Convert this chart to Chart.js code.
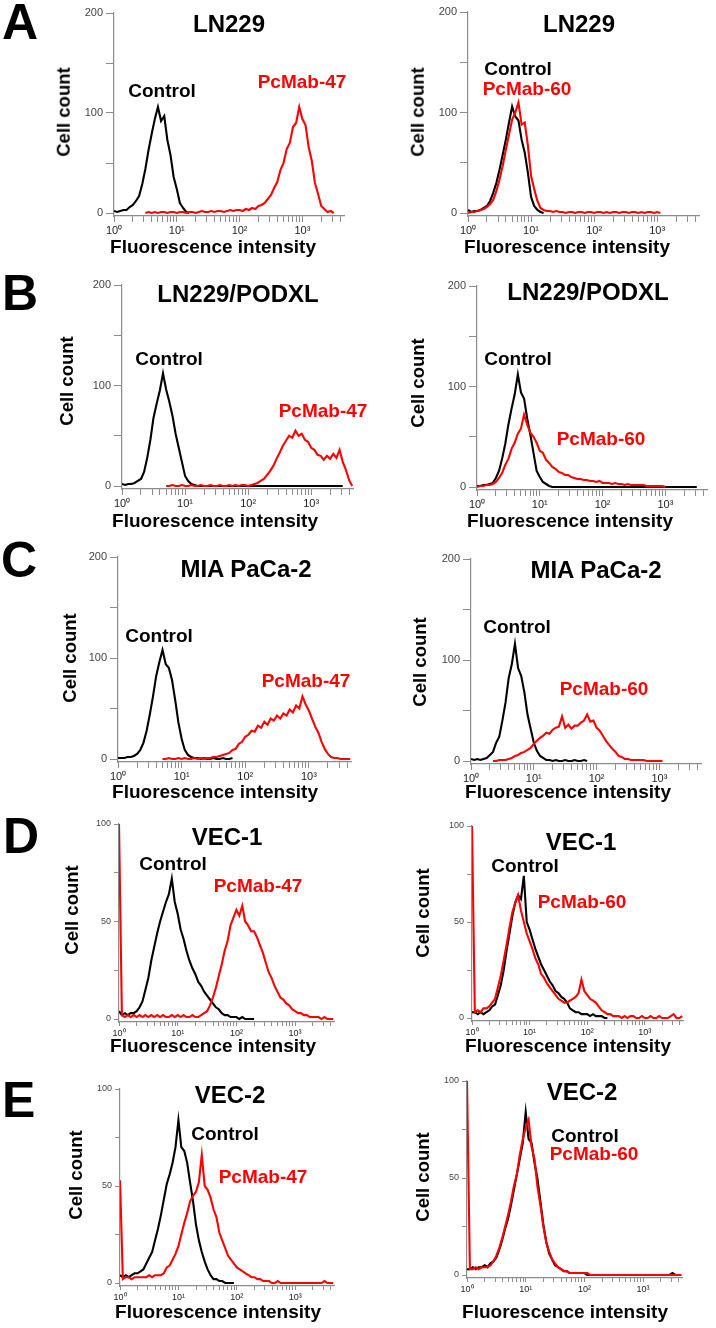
<!DOCTYPE html>
<html>
<head>
<meta charset="utf-8">
<script src="https://cdn.jsdelivr.net/npm/chart.js@4.4.1/dist/chart.umd.min.js"></script>
<style>
  body { margin: 0; background: #fff; }
  #fig { position: relative; width: 716px; height: 1328px; overflow: hidden;
         font-family: "Liberation Sans", Arial, Helvetica, sans-serif; }
  #fig canvas { position: absolute; }
  .txt { position: absolute; white-space: nowrap; font-weight: bold; line-height: 1; }
</style>
</head>
<body>
<div id="fig"></div>
<script>
const _ = null;

// --- 공통 x 채널 (log 0.05 간격) ---
const channels = [1, 1.12, 1.26, 1.41, 1.58, 1.78, 2.00, 2.24, 2.51, 2.82,
  3.16, 3.55, 3.98, 4.47, 5.01, 5.62, 6.31, 7.08, 7.94, 8.91,
  10, 11.2, 12.6, 14.1, 15.8, 17.8, 20.0, 22.4, 25.1, 28.2,
  31.6, 35.5, 39.8, 44.7, 50.1, 56.2, 63.1, 70.8, 79.4, 89.1,
  100, 112, 126, 141, 158, 178, 200, 224, 251, 282,
  316, 355, 398, 447, 501, 562, 631, 708, 794, 891,
  1000, 1122, 1259, 1413, 1585, 1778, 1995, 2239, 2512, 2818,
  3162, 3548, 3981, 4467];

// --- A: LN229 ---
const ln229Ctrl47 = [2,1,2,3,3,6,8,12,17,29, 44,63,79,94,106,92,97,73,58,36, 24,10,5,1,0,_,_,_,_,_,
  _,_,_,_,_,_,_,_,_,_, _,_,_,_,_,_,_,_,_,_, _,_,_,_,_,_,_,_,_,_, _,_,_,_,_,_,_,_,_,_, _,_,_,_];
const ln229Mab47 = [_,_,_,_,_,_,_,_,_,_, 0,1,0,1,0,1,1,0,1,1, 0,1,1,0,1,1,0,1,2,1,
  1,2,1,2,2,1,2,3,2,3, 3,2,4,3,5,4,7,8,10,14, 18,25,31,43,50,64,70,86,90,106, 94,88,66,52,30,19,7,4,1,2, 0,_,_,_];
const ln229Ctrl60 = [3,1,2,2,3,5,7,12,20,30, 43,58,73,90,106,96,92,73,60,40, 16,7,3,1,0,_,_,_,_,_,
  _,_,_,_,_,_,_,_,_,_, _,_,_,_,_,_,_,_,_,_, _,_,_,_,_,_,_,_,_,_, _,_,_,_,_,_,_,_,_,_, _,_,_,_];
const ln229Mab60 = [0,1,1,2,3,4,6,9,13,22, 33,47,63,78,93,100,110,88,90,67, 37,24,12,5,3,2,2,1,2,1,
  1,0,1,1,0,1,1,0,1,1, 0,1,1,0,1,0,1,1,0,1, 1,0,1,1,0,1,0,1,1,0, 1,0,_,_,_,_,_,_,_,_, _,_,_,_];

// --- B: LN229/PODXL ---
const podxlCtrl47 = [2,1,2,2,3,5,7,14,28,46, 68,82,95,112,96,84,70,52,38,24, 10,5,2,1,0,0,0,0,0,0,
  0,0,0,0,0,0,0,0,0,0, 0,0,0,0,0,0,0,0,0,0, 0,0,0,0,0,0,0,0,0,0, 0,0,0,0,0,0,0,0,0,0, 0,_,_,_];
const podxlMab47 = [_,_,_,_,_,_,_,_,_,_, _,_,_,_,0,0,1,0,0,1, 0,0,1,0,0,1,0,0,1,0,
  0,1,0,0,1,0,1,0,1,1, 0,1,2,3,5,7,11,15,20,27, 33,40,45,50,48,55,50,52,46,44, 38,36,31,30,26,30,27,32,28,36, 24,16,6,0];
const podxlCtrl60 = [1,1,2,2,3,4,9,16,28,43, 62,78,92,112,94,88,68,52,34,16, 10,5,3,1,0,0,0,0,0,0,
  0,0,0,0,0,0,0,0,0,0, 0,0,0,0,0,0,0,0,0,0, 0,0,0,0,0,0,0,0,0,0, 0,0,0,0,0,0,0,0,0,0, 0,_,_,_];
const podxlMab60 = [0,1,1,2,2,3,5,9,14,22, 28,38,44,53,58,72,62,54,50,44, 36,34,27,24,20,18,15,14,12,12,
  10,9,8,8,7,7,6,6,5,6, 4,4,4,3,4,3,3,2,3,2, 2,2,2,2,1,1,1,1,1,1, 0,_,_,_,_,_,_,_,_,_, _,_,_,_];

// --- C: MIA PaCa-2 ---
const miaCtrl47 = [1,1,1,2,2,3,5,9,16,28, 44,62,82,96,108,94,90,78,58,36, 20,9,4,2,1,1,0,1,0,0,
  1,0,0,1,0,0,1,_,_,_, _,_,_,_,_,_,_,_,_,_, _,_,_,_,_,_,_,_,_,_, _,_,_,_,_,_,_,_,_,_, _,_,_,_];
const miaMab47 = [_,_,_,_,_,_,_,_,_,_, _,_,_,_,0,0,1,0,0,1, 0,1,0,0,1,0,1,0,1,1,
  2,2,3,4,5,6,9,10,15,17, 22,24,28,27,33,31,37,34,40,38, 43,40,45,43,49,46,53,50,62,54, 48,40,32,26,17,10,5,2,1,1, 0,0,0,0];
const miaCtrl60 = [2,1,2,1,2,3,6,9,18,24, 40,58,82,96,116,92,84,68,46,32, 18,10,5,3,1,1,0,1,0,0,
  1,0,0,1,0,0,1,0,_,_, _,_,_,_,_,_,_,_,_,_, _,_,_,_,_,_,_,_,_,_, _,_,_,_,_,_,_,_,_,_, _,_,_,_];
const miaMab60 = [_,_,_,_,_,_,_,0,0,1, 1,1,2,3,5,6,8,9,11,13, 17,20,23,25,28,27,31,33,34,44,
  33,36,32,35,35,38,40,46,39,40, 33,30,25,20,16,12,9,5,4,2, 2,1,1,1,1,1,0,0,0,0, 0,0,_,_,_,_,_,_,_,_, _,_,_,_];

// --- D: VEC-1 ---
const vec1Ctrl47 = [4,2,3,2,3,3,4,6,9,15, 21,30,37,44,50,55,60,64,72,60, 54,46,41,35,30,26,23,19,17,14,
  12,10,8,6,5,3,2,2,1,1, 1,0,1,0,0,0,0,_,_,_, _,_,_,_,_,_,_,_,_,_, _,_,_,_,_,_,_,_,_,_, _,_,_,_];
const vec1Mab47 = [100,2,1,2,1,2,1,2,1,2, 1,2,1,2,1,2,1,1,2,1, 2,1,2,1,1,2,1,1,2,3,
  4,7,11,16,22,28,35,40,48,52, 56,53,58,50,48,45,45,42,38,34, 29,24,21,17,14,11,10,8,7,5, 4,3,3,2,2,1,1,1,1,0, 1,0,0,0];
const vec1Ctrl60 = [3,3,2,3,2,3,4,6,7,12, 17,25,35,44,53,60,64,62,74,50, 46,41,36,32,28,25,22,19,17,14,
  13,11,10,8,5,4,3,3,2,2, 2,1,2,1,1,1,0,0,_,_, _,_,_,_,_,_,_,_,_,_, _,_,_,_,_,_,_,_,_,_, _,_,_,_];
const vec1Mab60 = [100,3,4,3,5,5,6,8,10,16, 22,30,38,47,55,60,64,56,50,44, 40,36,31,28,23,21,18,16,14,12,
  10,9,8,8,9,10,11,13,20,14, 12,10,9,8,6,4,3,2,2,1, 1,1,0,1,0,1,1,0,0,1, 0,0,1,0,0,1,0,0,0,1, 2,0,0,1];

// --- E: VEC-2 ---
const vec2Ctrl47 = [4,3,4,3,4,5,5,6,7,10, 13,16,22,28,35,43,51,56,62,70, 84,70,68,62,52,42,30,22,16,11,
  7,4,2,2,1,1,0,0,0,0, _,_,_,_,_,_,_,_,_,_, _,_,_,_,_,_,_,_,_,_, _,_,_,_,_,_,_,_,_,_, _,_,_,_];
const vec2Mab47 = [53,2,3,3,2,3,3,3,3,3, 4,3,4,4,4,5,8,9,12,15, 19,25,31,36,42,45,47,52,66,50,
  48,44,38,34,26,22,18,14,12,10, 8,7,6,5,4,3,3,2,2,1, 1,1,0,0,1,0,0,0,0,0, 0,0,0,0,0,0,0,0,0,0, 1,0,0,0];
const vec2Ctrl60 = [3,3,4,3,4,4,5,4,6,7, 9,13,18,24,29,36,44,52,60,68, 84,70,68,58,50,38,26,17,11,8,
  5,4,3,2,2,1,1,1,1,1, 1,0,0,0,0,0,0,0,0,0, 0,0,0,0,0,0,0,0,0,0, 0,0,0,0,0,0,0,0,0,0, 1,0,0,0];
const vec2Mab60 = [100,3,3,4,3,4,4,4,5,7, 10,14,19,25,31,38,46,52,62,70, 76,80,66,60,46,36,25,17,12,8,
  6,4,3,2,2,1,1,1,1,1, 1,1,0,0,0,0,0,0,0,0, 0,0,0,0,0,0,0,0,0,0, 0,0,0,0,0,0,0,0,0,0, 0,0,0,0];

// --- 눈금 ---
const xTickValues = [1,2,3,4,5,6,7,8,9, 10,20,30,40,50,60,70,80,90,
  100,200,300,400,500,600,700,800,900, 1000,2000,3000,4000];
const xTickLabels = { 1: '10⁰', 10: '10¹', 100: '10²', 1000: '10³' };
const yTicks200 = [0, 50, 100, 150, 200];
const yLabels200 = [0, 100, 200];
const yTicks100 = [0, 25, 50, 75, 100];
const yLabels100 = [0, 50, 100];

const X_MAX = 4600;
const FONT = '"Liberation Sans", Arial, Helvetica, sans-serif';
const axisGrey = '#8c8c8c';
const RED = '#ff0000';

// 패널 배치 (x0 = 10^0 위치, dec = 1 decade 픽셀, yTop = 최대값 위치, y0 = 0 위치)
const panels = [
  { ctrl: ln229Ctrl47, mab: ln229Mab47, ymax: 200, x0: 114, dec: 62.7, yTop: 13,   y0: 213 },
  { ctrl: ln229Ctrl60, mab: ln229Mab60, ymax: 200, x0: 468, dec: 63.0, yTop: 12,   y0: 213 },
  { ctrl: podxlCtrl47, mab: podxlMab47, ymax: 200, x0: 122, dec: 63.0, yTop: 285,  y0: 486 },
  { ctrl: podxlCtrl60, mab: podxlMab60, ymax: 200, x0: 477, dec: 62.7, yTop: 286,  y0: 487 },
  { ctrl: miaCtrl47,   mab: miaMab47,   ymax: 200, x0: 118, dec: 63.7, yTop: 557,  y0: 759 },
  { ctrl: miaCtrl60,   mab: miaMab60,   ymax: 200, x0: 471, dec: 62.7, yTop: 559,  y0: 761 },
  { ctrl: vec1Ctrl47,  mab: vec1Mab47,  ymax: 100, x0: 119, dec: 58.7, yTop: 824,  y0: 1019 },
  { ctrl: vec1Ctrl60,  mab: vec1Mab60,  ymax: 100, x0: 472, dec: 57.7, yTop: 826,  y0: 1018 },
  { ctrl: vec2Ctrl47,  mab: vec2Mab47,  ymax: 100, x0: 120, dec: 58.3, yTop: 1089, y0: 1283 },
  { ctrl: vec2Ctrl60,  mab: vec2Mab60,  ymax: 100, x0: 467, dec: 58.7, yTop: 1081, y0: 1275 }
];

// 텍스트: [문자, x, baseline, size, color, 정렬]
const texts = [
  ['A', 2, 39, 50, '#000', 'l'], ['B', 2, 310, 50, '#000', 'l'], ['C', 1, 577, 50, '#000', 'l'],
  ['D', 3, 853, 50, '#000', 'l'], ['E', 2, 1117, 50, '#000', 'l'],

  ['LN229', 229, 32, 24, '#000', 'c'], ['Control', 162, 97, 19, '#000', 'c'], ['PcMab-47', 302, 88, 19, RED, 'c'],
  ['Cell count', 64, 112, 18.5, '#000', 'v'], ['Fluorescence intensity', 213, 253, 19, '#000', 'c'],
  ['LN229', 579, 32, 24, '#000', 'c'], ['Control', 518, 75, 19, '#000', 'c'], ['PcMab-60', 527, 95, 19, RED, 'c'],
  ['Cell count', 418, 112, 18.5, '#000', 'v'], ['Fluorescence intensity', 567, 253, 19, '#000', 'c'],

  ['LN229/PODXL', 238, 302, 24, '#000', 'c'], ['Control', 169, 365, 19, '#000', 'c'], ['PcMab-47', 323, 417, 19, RED, 'c'],
  ['Cell count', 67, 381, 18.5, '#000', 'v'], ['Fluorescence intensity', 215, 527, 19, '#000', 'c'],
  ['LN229/PODXL', 588, 300, 24, '#000', 'c'], ['Control', 518, 365, 19, '#000', 'c'], ['PcMab-60', 601, 445, 19, RED, 'c'],
  ['Cell count', 418, 383, 18.5, '#000', 'v'], ['Fluorescence intensity', 570, 527, 19, '#000', 'c'],

  ['MIA PaCa-2', 246, 577, 24, '#000', 'c'], ['Control', 159, 642, 19, '#000', 'c'], ['PcMab-47', 306, 687, 19, RED, 'c'],
  ['Cell count', 70, 658, 18.5, '#000', 'v'], ['Fluorescence intensity', 215, 798, 19, '#000', 'c'],
  ['MIA PaCa-2', 596, 578, 24, '#000', 'c'], ['Control', 517, 633, 19, '#000', 'c'], ['PcMab-60', 604, 695, 19, RED, 'c'],
  ['Cell count', 420, 662, 18.5, '#000', 'v'], ['Fluorescence intensity', 568, 798, 19, '#000', 'c'],

  ['VEC-1', 227, 845, 24, '#000', 'c'], ['Control', 173, 870, 19, '#000', 'c'], ['PcMab-47', 258, 892, 19, RED, 'c'],
  ['Cell count', 72, 910, 18.5, '#000', 'v'], ['Fluorescence intensity', 213, 1052, 19, '#000', 'c'],
  ['VEC-1', 581, 850, 24, '#000', 'c'], ['Control', 525, 872, 19, '#000', 'c'], ['PcMab-60', 582, 908, 19, RED, 'c'],
  ['Cell count', 423, 913, 18.5, '#000', 'v'], ['Fluorescence intensity', 568, 1052, 19, '#000', 'c'],

  ['VEC-2', 230, 1103, 24, '#000', 'c'], ['Control', 225, 1140, 19, '#000', 'c'], ['PcMab-47', 263, 1183, 19, RED, 'c'],
  ['Cell count', 76, 1175, 18.5, '#000', 'v'], ['Fluorescence intensity', 218, 1318, 19, '#000', 'c'],
  ['VEC-2', 582, 1100, 24, '#000', 'c'], ['Control', 585, 1142, 19, '#000', 'c'], ['PcMab-60', 594, 1160, 19, RED, 'c'],
  ['Cell count', 423, 1177, 18.5, '#000', 'v'], ['Fluorescence intensity', 565, 1318, 19, '#000', 'c']
];

const fig = document.getElementById('fig');

function toPoints(arr) {
  return channels.map((x, i) => ({ x: x, y: arr[i] })).filter(d => d.y !== null);
}

function drawPanel(p) {
  const small = p.ymax === 100;
  const padL = 44, padT = 10, padR = 14, padB = 30;
  const gap = 3; // 0 눈금과 x축 사이 간격
  const plotW = Math.round(p.dec * Math.log10(X_MAX));
  const plotH = p.y0 + gap - p.yTop;

  const cv = document.createElement('canvas');
  cv.width = padL + plotW + padR;
  cv.height = padT + plotH + padB;
  cv.style.left = (p.x0 - padL) + 'px';
  cv.style.top = (p.yTop - padT) + 'px';
  fig.appendChild(cv);

  const yMin = -gap * p.ymax / (p.y0 - p.yTop);
  const yTicks = small ? yTicks100 : yTicks200;
  const yShown = small ? yLabels100 : yLabels200;

  new Chart(cv, {
    type: 'line',
    data: {
      datasets: [
        { data: toPoints(p.mab), borderColor: RED, borderWidth: 2.1, pointRadius: 0, tension: 0, order: 0 },
        { data: toPoints(p.ctrl), borderColor: '#000', borderWidth: 2.1, pointRadius: 0, tension: 0, order: 1 }
      ]
    },
    options: {
      responsive: false,
      animation: false,
      events: [],
      layout: { padding: { left: 0, top: padT, right: padR, bottom: 0 } },
      plugins: { legend: { display: false }, tooltip: { enabled: false } },
      scales: {
        x: {
          type: 'logarithmic', min: 1, max: X_MAX,
          afterFit: s => { s.height = padB; },
          afterBuildTicks: s => { s.ticks = xTickValues.map(v => ({ value: v })); },
          border: { color: axisGrey, width: 1.2 },
          grid: { drawOnChartArea: false, drawTicks: true, tickLength: small ? 4 : 6, color: axisGrey },
          ticks: {
            autoSkip: false, maxRotation: 0, minRotation: 0, padding: 2, color: '#222',
            font: { family: FONT, size: small ? 9 : 11 },
            callback: v => xTickLabels[v] || ''
          }
        },
        y: {
          min: yMin, max: p.ymax,
          afterFit: s => { s.width = padL; },
          afterBuildTicks: s => { s.ticks = yTicks.map(v => ({ value: v })); },
          border: { color: axisGrey, width: 1.2 },
          grid: { drawOnChartArea: false, drawTicks: true, tickLength: small ? 5 : 8, color: axisGrey },
          ticks: {
            padding: 3, color: '#444',
            font: { family: FONT, size: small ? 9 : 11 },
            callback: v => yShown.includes(v) ? String(v) : ''
          }
        }
      }
    }
  });
}

panels.forEach(drawPanel);

// --- 텍스트 배치 ---
texts.forEach(([t, x, base, size, color, align]) => {
  const d = document.createElement('div');
  d.className = 'txt';
  d.textContent = t;
  d.style.fontSize = size + 'px';
  d.style.color = color;
  if (align === 'v') {
    d.style.left = x + 'px';
    d.style.top = base + 'px';
    d.style.transform = 'translate(-50%, -50%) rotate(-90deg)';
  } else {
    d.style.left = x + 'px';
    d.style.top = (base - 0.8465 * size) + 'px';
    if (align === 'c') d.style.transform = 'translateX(-50%)';
  }
  fig.appendChild(d);
});
</script>
</body>
</html>
